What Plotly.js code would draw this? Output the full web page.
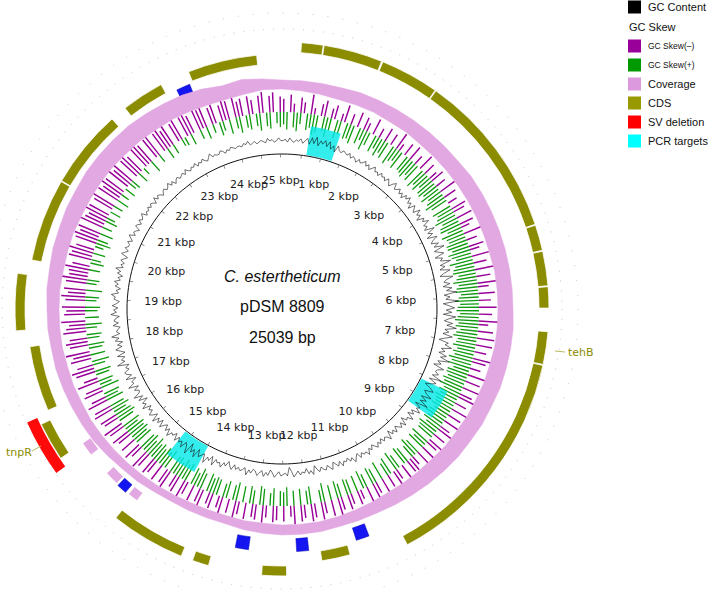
<!DOCTYPE html>
<html><head><meta charset="utf-8">
<script src="https://cdn.plot.ly/plotly-3.0.1.min.js"></script>
<style>html,body{margin:0;padding:0;background:#fff}#c{width:708px;height:590px}</style>
</head><body><div id="c"></div>
<script>
const genomeLength = 25039;
// CDS features (bp)
const cdsStart  = [292, 633, 1544, 2448, 4987, 5390, 5926, 6600, 7108, 11441, 12450, 13632, 14063, 16414, 17151, 18452, 19551, 20879, 22395, 23543];
const cdsEnd    = [619, 1523, 2434, 4973, 5376, 5912, 6246, 7094, 10572, 11893, 12825, 13882, 15197, 16999, 18188, 19314, 20865, 22131, 23070, 24642];
const cdsStrand = ['+','+','+','+','+','+','+','+','+','-','+','+','+','+','-','+','-','-','-','-'];
const cdsName   = ['','','','','','','','tehB','','','','','','tnpR','','','','','',''];
// SV deletion
const svStart = [16275], svEnd = [17109];
// PCR targets
const pcrStart = [626, 8103, 14488], pcrEnd = [1287, 8764, 15184];
// blue marked sites
const siteCenter = [23370, 11170, 12179, 13181, 15420];
const siteSize   = [230, 220, 200, 220, 170];
// isolated coverage blocks
const covBlockCenter = [15190, 15660, 16300];
const covBlockSize   = [170, 230, 230];
// GC content (%), 480 windows
const gcContent = [
31,32,30,33,31,30,32,31,33,30, 32,34,30,35,31,36,30,34,32,35, 31,35,30,33,29,34,31,30,32,31, 30,32,29,31,30,28,31,29,30,32,
29,31,28,30,32,29,30,28,31,29, 30,28,31,29,27,30,32,28,29,31, 28,30,27,31,29,32,28,30,26,31, 29,27,32,28,30,26,31,29,33,28,
30,27,34,28,31,26,33,29,27,32, 28,35,27,30,33,26,31,29,36,28, 31,27,34,29,26,35,30,28,32,27, 33,29,36,27,31,28,37,26,30,34,
28,32,26,35,30,27,33,29,36,28, 31,27,34,29,25,32,30,35,28,31, 27,33,29,36,28,31,26,34,30,29, 32,28,35,27,33,30,26,31,34,28,
30,35,28,33,29,36,27,32,30,34, 28,31,27,33,29,30,26,32,28,31, 29,27,31,28,30,26,32,29,28,30, 27,30,28,31,29,27,30,28,32,29,
30,28,31,27,29,32,28,30,27,29, 28,31,27,30,28,26,31,29,27,30, 29,27,30,28,25,31,28,30,26,29, 28,30,27,29,31,27,24,30,28,29,
30,27,29,31,28,26,30,28,31,27, 29,31,28,27,30,28,32,27,29,30, 28,30,27,31,29,26,30,28,32,29, 30,28,33,27,31,29,34,28,30,32,
27,34,29,32,26,35,30,28,33,29, 31,28,32,27,30,29,33,28,31,27, 29,32,27,31,28,33,27,30,32,28, 30,27,33,29,31,26,32,28,34,29,
28,31,27,34,29,30,26,33,28,31, 32,28,30,27,35,29,31,28,33,27, 30,33,28,31,27,32,29,34,28,30, 29,27,32,28,31,30,27,33,29,31,
28,32,29,27,31,30,33,28,30,27, 31,29,32,28,30,27,31,29,33,28, 30,28,31,29,27,32,30,28,31,29, 29,31,28,30,32,28,30,29,27,31,
30,28,31,29,30,32,28,30,29,31, 29,31,30,28,32,29,31,30,28,30, 31,29,30,32,29,31,28,30,31,29, 30,31,29,32,30,29,31,30,32,29,
31,30,32,30,29,31,33,30,31,30, 30,32,31,29,31,30,32,31,30,31, 31,30,32,31,33,30,31,32,30,31, 32,31,30,33,31,32,30,31,33,31];
// GC skew magnitudes, 360 windows
const gcSkewMinus = [
12,0,16,8,0,14,10,0,18,6, 0,11,15,0,9,13,0,7,16,0, 10,0,14,0,12,8,0,15,0,9, 0,13,0,11,0,16,7,0,12,0,
14,0,9,0,15,0,11,0,8,13, 0,10,0,16,0,12,0,9,0,14, 11,0,15,0,13,8,0,17,0,10, 0,14,9,0,16,0,12,0,18,0,
13,0,17,10,0,15,0,11,0,16, 0,12,0,18,9,0,14,0,16,0, 15,0,11,0,17,13,0,10,0,19, 0,14,0,16,0,12,18,0,11,0,
17,0,13,0,15,0,10,16,0,12, 0,15,11,0,14,0,17,0,9,13, 12,0,16,0,10,14,0,12,0,15, 0,11,14,0,16,0,9,13,0,10,
14,0,12,17,0,15,0,11,16,0, 13,16,0,12,15,0,17,10,0,14, 0,13,15,0,11,16,0,14,12,0, 15,0,12,16,0,13,0,17,11,0,
14,11,0,16,13,0,15,0,12,17, 0,15,12,0,17,14,0,16,0,13, 16,0,14,18,0,12,17,0,15,0, 13,17,0,15,19,0,14,16,0,18,
16,0,19,14,0,18,15,0,20,13, 0,18,21,15,0,19,16,22,0,17, 20,16,0,21,18,15,22,0,19,17, 21,0,18,22,16,20,0,19,23,17,
18,22,16,0,21,19,23,17,0,20, 22,18,21,0,24,19,17,22,20,0, 19,23,0,21,18,24,20,0,22,19, 23,0,20,22,18,0,21,24,19,0,
20,22,0,19,23,17,21,0,18,22, 0,19,21,17,0,20,18,22,0,16, 18,0,15,20,17,0,19,14,16,0, 17,13,0,16,19,0,15,18,0,14];
const gcSkewPlus = [
10,14,0,12,15,9,0,13,11,16, 14,0,12,16,10,0,15,11,0,13, 12,15,0,13,9,16,11,0,14,10, 15,11,14,0,16,12,10,15,0,13,
14,16,12,15,0,17,13,16,11,15, 16,13,17,12,15,18,14,0,16,13, 15,18,13,16,17,12,18,15,14,17, 17,14,18,16,13,19,15,17,18,14,
16,19,15,17,18,14,16,19,15,17, 18,15,17,19,16,18,14,17,19,15, 16,18,14,17,15,19,16,18,13,17, 17,15,18,16,19,14,17,15,18,16,
15,17,13,16,18,14,16,12,17,15, 14,0,16,12,15,0,13,16,11,0, 13,15,0,12,16,0,14,11,0,15, 0,12,14,0,11,15,0,13,0,12,
13,0,11,14,0,12,0,15,10,0, 0,14,11,0,13,0,12,0,15,11, 12,0,14,10,0,13,15,0,11,14, 0,13,0,15,12,0,14,11,0,13,
14,12,15,0,13,16,11,14,0,15, 13,16,12,15,14,0,16,13,15,12, 15,13,17,12,16,14,0,15,13,16, 14,16,12,15,0,13,16,14,11,15,
12,0,14,11,13,0,15,10,12,0, 11,13,0,10,14,0,12,0,11,13, 0,10,12,0,9,13,0,11,0,10, 12,0,9,11,0,13,0,8,10,0,
0,9,0,11,8,0,10,0,7,12, 9,0,11,0,8,0,10,7,0,9, 0,8,0,10,0,7,0,9,0,6, 8,0,0,9,0,6,0,0,10,0,
0,7,0,0,9,0,8,0,0,6, 7,0,9,0,0,8,0,10,0,7, 0,11,8,0,12,0,9,13,0,10, 12,0,10,14,0,11,13,0,9,12];
// coverage envelope, 72 windows (max / min depth, plotted units)
const coverageMax = [29,29,29,29,30,30,30,30,30,30,30,31,31,31,31,31,31,31,31,32,32,32,32,31,31,30,30,29,28,27,26,25,25,25,26,26,
                     26,25,24,22,22,22,22,23,25,26,28,30,31,32,33,34,34,35,35,36,36,37,37,38,38,39,39,39,39,38,37,36,34,31,33,31];
const coverageMin = [20,19,18,17,17,17,16,16,15,15,15,15,15,15,15,15,16,16,16,16,16,15,15,14,14,13,13,12,12,12,12,13,14,15,16,16,
                     16,15,15,14,14,14,15,16,17,18,19,20,21,21,22,22,23,23,23,23,22,22,22,21,21,21,21,20,20,19,19,18,17,17,18,20];
const kbpLabels = [1,2,3,4,5,6,7,8,9,10,11,12,13,14,15,16,17,18,19,20,21,22,23,24,25];

const deg = bp => bp / genomeLength * 360;
const W = 708, H = 590, CX = 282, CY = 309, R = 281;
const px = x => x / W, py = y => 1 - y / H;

const OLIVE = '#8c8c00', PURPLE = '#990099', GREEN = '#109a10', PINK = 'rgb(226,168,226)';
const SKEW_BASE = 197, MINUS_SCALE = 1.1, PLUS_SCALE = 1.25;
const traces = [];

// coverage band
{
  const step = 360 / coverageMax.length;
  const th = [], rr = [];
  for (let i = 0; i <= coverageMax.length; i++) { th.push(i * step); rr.push(200 + coverageMax[i % coverageMax.length]); }
  for (let i = coverageMin.length; i >= 0; i--) { th.push(i * step); rr.push(200 + coverageMin[i % coverageMin.length]); }
  traces.push({type:'scatterpolar', theta:th, r:rr, mode:'lines', fill:'toself',
    fillcolor:PINK, line:{color:PINK, width:0.5}, hoverinfo:'skip'});
}
// white gaps under sites
traces.push({type:'barpolar', theta:siteCenter.map(deg), width:siteSize.map(s=>deg(s)*0.8),
  base:siteCenter.map(()=>203), r:siteCenter.map(()=>28), marker:{color:'#ffffff', line:{width:0}}, hoverinfo:'skip'});
// isolated coverage blocks
traces.push({type:'barpolar', theta:covBlockCenter.map(deg), width:covBlockSize.map(deg),
  base:covBlockCenter.map(()=>231), r:covBlockCenter.map(()=>9), marker:{color:PINK, line:{width:0}}, hoverinfo:'skip'});
// GC skew
{
  const n = gcSkewMinus.length, st = 360 / n;
  const tm=[], rm=[], tp=[], rp=[], bp=[];
  gcSkewMinus.forEach((v,i)=>{ if (v>0){ tm.push((i+0.5)*st); rm.push(v*MINUS_SCALE);} });
  gcSkewPlus.forEach((v,i)=>{ if (v>0){ tp.push((i+0.5)*st); rp.push(v*PLUS_SCALE); bp.push(SKEW_BASE - v*PLUS_SCALE);} });
  traces.push({type:'barpolar', theta:tm, r:rm, base:tm.map(()=>SKEW_BASE), width:0.4,
    marker:{color:PURPLE, line:{width:0}}, hoverinfo:'skip'});
  traces.push({type:'barpolar', theta:tp, r:rp, base:bp, width:0.4,
    marker:{color:GREEN, line:{width:0}}, hoverinfo:'skip'});
}
// GC content line
{
  const n = gcContent.length, st = 360 / n;
  const th = [], rr = [];
  for (let i = 0; i <= n; i++) { th.push(((i % n) + 0.5) * st + (i===n?360:0)); rr.push(167 + (gcContent[i % n] - 30) * 1.4); }
  traces.push({type:'scatterpolar', theta:th, r:rr, mode:'lines',
    line:{color:'#111', width:0.6}, hoverinfo:'skip'});
}
// inner scale circle and ticks
{
  const th = [];
  for (let a = 0; a <= 360; a += 2) th.push(a);
  traces.push({type:'scatterpolar', theta:th, r:th.map(()=>155), mode:'lines',
    line:{color:'#111', width:1}, hoverinfo:'skip'});
  const tk = [];
  for (let b = 500; b < genomeLength; b += 500) tk.push(deg(b));
  traces.push({type:'barpolar', theta:tk, r:tk.map(()=>3), base:tk.map(()=>151.5), width:0.3,
    marker:{color:'#777', line:{width:0}}, hoverinfo:'skip'});
}
// PCR targets
traces.push({type:'barpolar',
  theta:pcrStart.map((s,i)=>deg((s+pcrEnd[i])/2)), width:pcrStart.map((s,i)=>deg(pcrEnd[i]-s)),
  base:pcrStart.map(()=>156), r:pcrStart.map(()=>29),
  marker:{color:'rgba(0,232,232,0.8)', line:{width:0}}, hoverinfo:'skip'});
// CDS
traces.push({type:'barpolar',
  theta:cdsStart.map((s,i)=>deg((s+cdsEnd[i])/2)), width:cdsStart.map((s,i)=>deg(cdsEnd[i]-s)),
  base:cdsStrand.map(s=>s==='+'?257:245), r:cdsStart.map(()=>10),
  marker:{color:OLIVE, line:{color:'#ffffff', width:0.8}}, hoverinfo:'skip'});
// SV deletion
traces.push({type:'barpolar',
  theta:svStart.map((s,i)=>deg((s+svEnd[i])/2)), width:svStart.map((s,i)=>deg(svEnd[i]-s)),
  base:svStart.map(()=>268), r:svStart.map(()=>11),
  marker:{color:'#ff0a0a', line:{width:0}}, hoverinfo:'skip'});
// blue sites
traces.push({type:'barpolar', theta:siteCenter.map(deg), width:siteSize.map(deg),
  base:siteSize.map(s=>s<200?231:230), r:siteSize.map(s=>s<200?10:13),
  marker:{color:'#1515f2', line:{color:'#0a0ab0', width:0.5}}, hoverinfo:'skip'});
// kbp labels inside the scale circle (pulled inwards near the sides so text stays inside)
{
  const th = kbpLabels.map(k=>deg(k*1000));
  const rr = th.map(t=>128 - 9*Math.pow(Math.abs(Math.sin(t*Math.PI/180)), 6));
  traces.push({type:'scatterpolar', theta:th, r:rr,
    mode:'text', text:kbpLabels.map(k=>k+' kbp'), textfont:{family:'DejaVu Sans', size:11, color:'#222'},
    cliponaxis:false, hoverinfo:'skip'});
}

const layout = {
  width:W, height:H, margin:{l:0,r:0,t:0,b:0}, paper_bgcolor:'#fff', showlegend:false,
  polar:{
    domain:{x:[px(CX-R), px(CX+R)], y:[(H-CY-R)/H, (H-CY+R)/H]},
    bgcolor:'rgba(0,0,0,0)', hole:0,
    radialaxis:{visible:false, range:[0,R]},
    angularaxis:{visible:false, direction:'clockwise', rotation:90, showgrid:false}
  },
  shapes:[], annotations:[]
};
// faint dotted outer rings
[[280,'1px,9px'],[296,'1px,14px']].forEach(([rr,d])=>{
  layout.shapes.push({type:'circle', xref:'paper', yref:'paper', x0:px(CX-rr), x1:px(CX+rr), y0:py(CY+rr), y1:py(CY-rr),
    line:{color:'#c4c4c4', width:1, dash:d}, layer:'below'});
});
// centre text
[['<i>C. estertheticum</i>',276],['pDSM 8809',306],['25039 bp',337]].forEach(([t,y])=>{
  layout.annotations.push({text:t, xref:'paper', yref:'paper', x:px(CX), y:py(y), xanchor:'center', yanchor:'middle',
    showarrow:false, font:{family:'Liberation Sans', size:16, color:'#111'}});
});
// gene labels with leaders
layout.shapes.push({type:'line', xref:'paper', yref:'paper', x0:px(555), y0:py(351), x1:px(565), y1:py(352), line:{color:'#b8b860', width:1}});
layout.annotations.push({text:'tehB', xref:'paper', yref:'paper', x:px(566), y:py(352), xanchor:'left', yanchor:'middle',
  showarrow:false, font:{family:'DejaVu Sans', size:11, color:OLIVE}});
layout.shapes.push({type:'line', xref:'paper', yref:'paper', x0:px(32), y0:py(451), x1:px(41), y1:py(446), line:{color:'#b8b860', width:1}});
layout.annotations.push({text:'tnpR', xref:'paper', yref:'paper', x:px(19), y:py(452), xanchor:'center', yanchor:'middle',
  showarrow:false, font:{family:'DejaVu Sans', size:11, color:OLIVE}});
// legend
const legendItems = [
  {color:'#000000', label:'GC Content', y:7, big:true},
  {color:null, label:'GC Skew', y:27, big:true},
  {color:'#990099', label:'GC Skew(–)', y:46, big:false},
  {color:'#009900', label:'GC Skew(+)', y:65, big:false},
  {color:'rgb(221,153,221)', label:'Coverage', y:84, big:true},
  {color:'#999900', label:'CDS', y:103, big:true},
  {color:'#ff0000', label:'SV deletion', y:122, big:true},
  {color:'#00ffff', label:'PCR targets', y:141, big:true}
];
legendItems.forEach(it=>{
  if (it.color) {
    layout.shapes.push({type:'rect', xref:'paper', yref:'paper', x0:px(628), x1:px(641), y0:py(it.y-6.5), y1:py(it.y+6.5),
      fillcolor:it.color, line:{width:0}});
  }
  layout.annotations.push({text:it.label, xref:'paper', yref:'paper', x:px(it.color?646:627), y:py(it.y),
    xanchor:'left', yanchor:'middle', showarrow:false,
    font:{family:'Liberation Sans', size:it.big?11:8.5, color:'#111'}});
});

Plotly.newPlot('c', traces, layout, {staticPlot:true, displayModeBar:false});
</script>
</body></html>
